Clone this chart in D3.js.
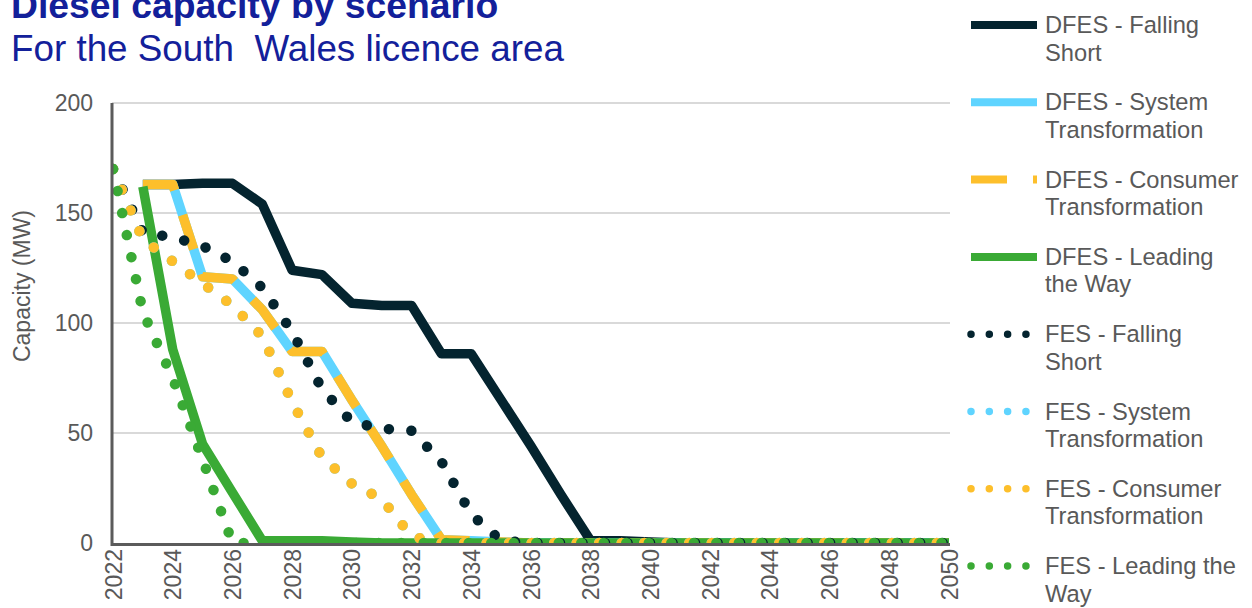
<!DOCTYPE html>
<html>
<head>
<meta charset="utf-8">
<script src="https://cdn.jsdelivr.net/npm/d3@7/dist/d3.min.js"></script>
<style>
  html, body { margin: 0; padding: 0; background: #fff; }
  svg { display: block; font-family: "Liberation Sans", Arial, sans-serif; }
</style>
</head>
<body>
<svg id="chart" width="1252" height="608"></svg>
<script>
// Years on the category axis
const years = [2022, 2023, 2024, 2025, 2026, 2027, 2028, 2029, 2030, 2031, 2032, 2033, 2034, 2035,
               2036, 2037, 2038, 2039, 2040, 2041, 2042, 2043, 2044, 2045, 2046, 2047, 2048, 2049, 2050];
const yearTicks = [2022, 2024, 2026, 2028, 2030, 2032, 2034, 2036, 2038, 2040, 2042, 2044, 2046, 2048, 2050];
const capacityTicks = [0, 50, 100, 150, 200];

// Diesel capacity (MW) per year, 2022-2050
const dfesFallingShort = [null, 163, 163, 163.5, 163.5, 154, 124, 122, 109, 108, 108, 86, 86, 65, 44, 22, 1, 1, 0.5,
                          0, 0, 0, 0, 0, 0, 0, 0, 0, 0];
const dfesSystemTransformation = [null, 163, 163, 121, 120, 106, 87, 87, 65, 44, 22, 1.5, 1, 0.5,
                                  0, 0, 0, 0, 0, 0, 0, 0, 0, 0, 0, 0, 0, 0, 0];
const dfesConsumerTransformation = [null, 163, 163, 121, 120, 106, 87, 87, 65, 44, 22, 1.5, 1, 0.5,
                                    0, 0, 0, 0, 0, 0, 0, 0, 0, 0, 0, 0, 0, 0, 0];
const dfesLeadingTheWay = [null, 162, 88, 45, 23, 1, 1, 1, 0.5,
                           0, 0, 0, 0, 0, 0, 0, 0, 0, 0, 0, 0, 0, 0, 0, 0, 0, 0, 0, 0];
const fesFallingShort = [170, 141, 139, 135, 128, 116, 96, 70, 55, 52, 51, 37, 13, 1,
                         0, 0, 0, 0, 0, 0, 0, 0, 0, 0, 0, 0, 0, 0, 0];
const fesSystemTransformation = [170, 138, 128, 118, 108, 94, 64, 39, 27, 20, 3,
                                 0, 0, 0, 0, 0, 0, 0, 0, 0, 0, 0, 0, 0, 0, 0, 0, 0, 0];
const fesConsumerTransformation = [170, 138, 128, 118, 108, 94, 64, 39, 27, 20, 3,
                                   0, 0, 0, 0, 0, 0, 0, 0, 0, 0, 0, 0, 0, 0, 0, 0, 0, 0];
const fesLeadingTheWay = [170, 105, 75, 38,
                          0, 0, 0, 0, 0, 0, 0, 0, 0, 0, 0, 0, 0, 0, 0, 0, 0, 0, 0, 0, 0, 0, 0, 0, 0];

const seriesNames = [
  ["DFES - Falling", "Short"],
  ["DFES - System", "Transformation"],
  ["DFES - Consumer", "Transformation"],
  ["DFES - Leading", "the Way"],
  ["FES - Falling", "Short"],
  ["FES - System", "Transformation"],
  ["FES - Consumer", "Transformation"],
  ["FES - Leading the", "Way"]
];
const seriesValues = [dfesFallingShort, dfesSystemTransformation, dfesConsumerTransformation, dfesLeadingTheWay,
                      fesFallingShort, fesSystemTransformation, fesConsumerTransformation, fesLeadingTheWay];

const navy = "#04242f", sky = "#5fd4ff", amber = "#fdbf2b", green = "#3aaa35";
const styles = [
  { color: navy,  kind: "solid" },
  { color: sky,   kind: "solid" },
  { color: amber, kind: "dash" },
  { color: green, kind: "solid" },
  { color: navy,  kind: "dot" },
  { color: sky,   kind: "dot" },
  { color: amber, kind: "dot" },
  { color: green, kind: "dot" }
];

const svg = d3.select("#chart");
const plot = { left: 112, right: 950, top: 103, bottom: 543 };

const x = d3.scaleLinear().domain([2022, 2050]).range([plot.left + 1, plot.right - 1]);
const y = d3.scaleLinear().domain([0, 200]).range([plot.bottom, plot.top]);

const textGrey = "#595959";

// Title block
svg.append("text").attr("x", 11).attr("y", 18)
  .attr("font-size", 37.3).attr("font-weight", "bold").attr("fill", "#13209a")
  .text("Diesel capacity by scenario");
svg.append("text").attr("x", 11).attr("y", 61)
  .attr("font-size", 36.8).attr("fill", "#13209a").attr("xml:space", "preserve")
  .text("For the South  Wales licence area");

// Horizontal gridlines
svg.append("g").selectAll("line").data(capacityTicks.filter(d => d > 0)).join("line")
  .attr("x1", plot.left).attr("x2", plot.right)
  .attr("y1", d => y(d)).attr("y2", d => y(d))
  .attr("stroke", "#cccccc").attr("stroke-width", 1.3);

// Series, clipped to the plotting area
svg.append("defs").append("clipPath").attr("id", "plotClip")
  .append("rect").attr("x", plot.left).attr("y", plot.top - 10)
  .attr("width", plot.right - plot.left + 6).attr("height", plot.bottom - plot.top + 10);

const line = d3.line()
  .defined(d => d.v !== null)
  .x(d => x(d.year)).y(d => y(d.v))
  .curve(d3.curveLinear);

const seriesG = svg.append("g").attr("clip-path", "url(#plotClip)");
seriesValues.forEach((vals, i) => {
  const st = styles[i];
  const pts = years.map((yr, k) => ({ year: yr, v: vals[k] }));
  const p = seriesG.append("path").datum(pts)
    .attr("d", line).attr("fill", "none")
    .attr("stroke", st.color).attr("stroke-linejoin", "round");
  if (st.kind === "solid") {
    p.attr("stroke-width", 9.5).attr("stroke-linecap", "butt");
  } else if (st.kind === "dash") {
    p.attr("stroke-width", 9.5).attr("stroke-linecap", "butt").attr("stroke-dasharray", "36 26");
  } else {
    p.attr("stroke-width", 10.5).attr("stroke-linecap", "round").attr("stroke-dasharray", "0.01 22.5");
  }
});

// Axes drawn over the series
const yAxis = d3.axisLeft(y).tickValues(capacityTicks).tickSize(0).tickPadding(19);
const yg = svg.append("g").attr("transform", `translate(${plot.left},0)`).call(yAxis);
yg.select(".domain").remove();
yg.selectAll("text").attr("font-size", 23).attr("fill", textGrey)
  .attr("font-family", "Liberation Sans, Arial, sans-serif");

const xAxis = d3.axisBottom(x).tickValues(yearTicks).tickFormat(d3.format("d")).tickSize(0);
const xg = svg.append("g").attr("transform", `translate(0,${plot.bottom})`).call(xAxis);
xg.select(".domain").remove();
xg.selectAll("text")
  .attr("font-size", 23).attr("fill", textGrey)
  .attr("font-family", "Liberation Sans, Arial, sans-serif")
  .attr("transform", "rotate(-90)")
  .attr("text-anchor", "end")
  .attr("x", -6).attr("y", 0).attr("dy", "0.35em");

svg.append("path")
  .attr("d", `M${plot.left},${plot.top} V${plot.bottom + 1.5} H${plot.right}`)
  .attr("fill", "none").attr("stroke", "#5b5b5b").attr("stroke-width", 3);

// Axis title
svg.append("text")
  .attr("transform", `translate(30,${(plot.top + plot.bottom) / 2 - 37}) rotate(-90)`)
  .attr("text-anchor", "middle").attr("font-size", 23).attr("fill", textGrey)
  .text("Capacity (MW)");

// Legend
const legend = svg.append("g");
seriesNames.forEach((lines, i) => {
  const cy = 25 + i * 77.3;
  const st = styles[i];
  const g = legend.append("g");
  const sample = g.append("line")
    .attr("x1", 971).attr("x2", 1037).attr("y1", cy).attr("y2", cy)
    .attr("stroke", st.color);
  if (st.kind === "solid") {
    sample.attr("stroke-width", 8);
  } else if (st.kind === "dash") {
    sample.attr("stroke-width", 8).attr("stroke-dasharray", "36 26");
  } else {
    sample.attr("x1", 971).attr("x2", 1027)
      .attr("stroke-width", 7.5).attr("stroke-linecap", "round").attr("stroke-dasharray", "0.01 18.3");
  }
  lines.forEach((t, j) => {
    g.append("text").attr("x", 1045).attr("y", cy + 8 + j * 27.5)
      .attr("font-size", 23.7).attr("fill", textGrey).text(t);
  });
});
</script>
</body>
</html>
